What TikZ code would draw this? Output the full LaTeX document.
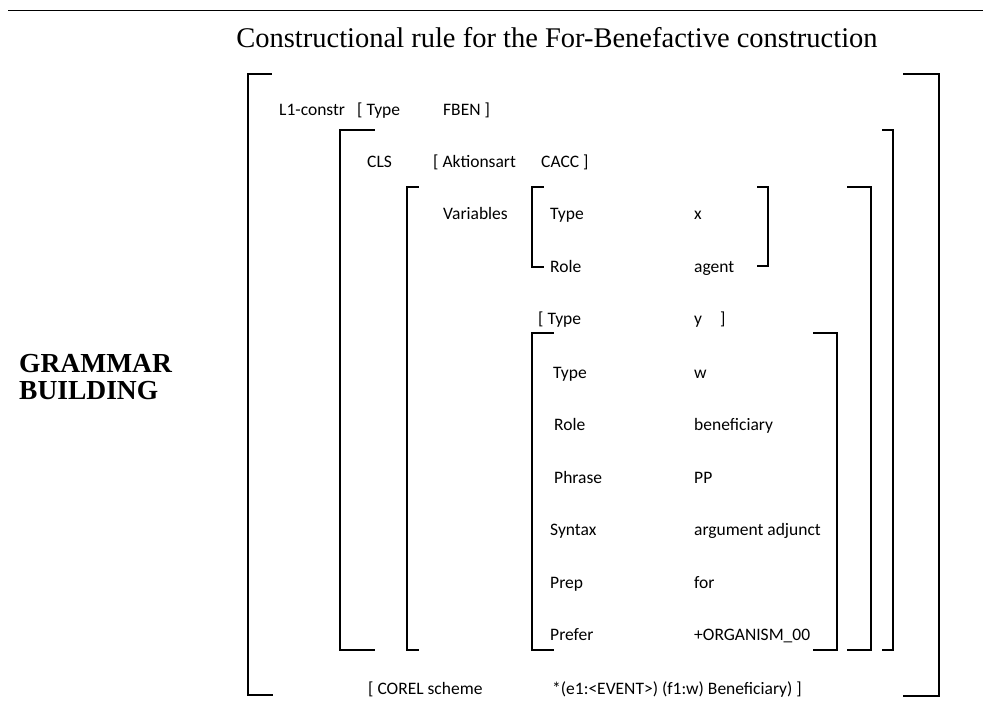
\documentclass[tikz,border=0pt]{standalone}
\usepackage{fontspec}
\setmainfont{Carlito}
\newfontfamily\serifhead{Liberation Serif}
\usepackage{tikz}

\begin{document}
\begin{tikzpicture}[x=1pt,y=-1pt,
  entry/.style={anchor=base west,inner sep=0pt,font=\fontsize{17.5}{20}\selectfont},
  brk/.style={line width=1.5pt,line cap=rect}]
						\useasboundingbox (0,0) rectangle (983,720);
						\draw[line width=1.3pt] (8,10.7) -- (983,10.7);
						\node[anchor=base,inner sep=0pt,font=\serifhead\fontsize{28.5}{30}\selectfont] (title) at (557,47) {Constructional rule for the For-Benefactive construction};
						\node[anchor=base west,inner sep=0pt,align=left,font=\serifhead\bfseries\fontsize{27.5}{27}\selectfont] (side) at (19,399) {GRAMMAR\\BUILDING};
					
						% brackets
						\draw[brk] (271,74) -- (248,74) -- (248,695) -- (272,695);
						\draw[brk] (904,74) -- (939,74) -- (939,696) -- (904,696);
						\draw[brk] (374,130) -- (340,130) -- (340,650) -- (374,650);
						\draw[brk] (883,130) -- (893,130) -- (893,650) -- (883,650);
						\draw[brk] (418,187) -- (407,187) -- (407,650) -- (418,650);
						\draw[brk] (848,187) -- (871,187) -- (871,650) -- (848,650);
						\draw[brk] (543,187) -- (532,187) -- (532,267) -- (543,267);
						\draw[brk] (758,187) -- (768,187) -- (768,266) -- (758,266);
						\draw[brk] (553,333) -- (532,333) -- (532,650) -- (553,650);
						\draw[brk] (814,333) -- (837,333) -- (837,650) -- (814,650);
						
						\node[entry] (lone) at (279,115) {L1-constr};
						\node[entry] (lonet) at (357,115) {[ Type};
						\node[entry] (lonev) at (443,115) {FBEN ]};
						
						\node[entry] (cls) at (367,167) {CLS};
						\node[entry] (clsa) at (433,167) {[ Aktionsart};
						\node[entry] (clsv) at (541,167) {CACC ]};
						
						\node[entry] (vars) at (443,219) {Variables};
						\node[entry] (xtype) at (550,219) {Type};
						\node[entry] (xval) at (694,219) {x};
						\node[entry] (xrole) at (550,272) {Role};
						\node[entry] (xag) at (694,272) {agent};
						
						\node[entry] (ytype) at (538,324) {[ Type};
						\node[entry] (yval) at (694,324) {y};
						\node[entry] (yend) at (720,324) {]};
						
						\node[entry] (wtype) at (553,378) {Type};
						\node[entry] (wrole) at (554,430) {Role};
						\node[entry] (wphr) at (554,483) {Phrase};
						\node[entry] (wsyn) at (550,535) {Syntax};
						\node[entry] (wprep) at (550,588) {Prep};
						\node[entry] (wpref) at (550,640) {Prefer};
						
						\node[entry] (wval) at (694,378) {w};
						\node[entry] (wben) at (694,430) {beneficiary};
						\node[entry] (wpp) at (694,483) {PP};
						\node[entry] (wadj) at (694,535) {argument adjunct};
						\node[entry] (wfor) at (694,588) {for};
						\node[entry] (worg) at (694,640) {+ORGANISM\_00};
						
						\node[entry] (corel) at (368,694) {[ COREL scheme};
						\node[entry] (corelv) at (552,694) {*(e1:<EVENT>) (f1:w) Beneficiary) ]};
					\end{tikzpicture}
\end{document}
